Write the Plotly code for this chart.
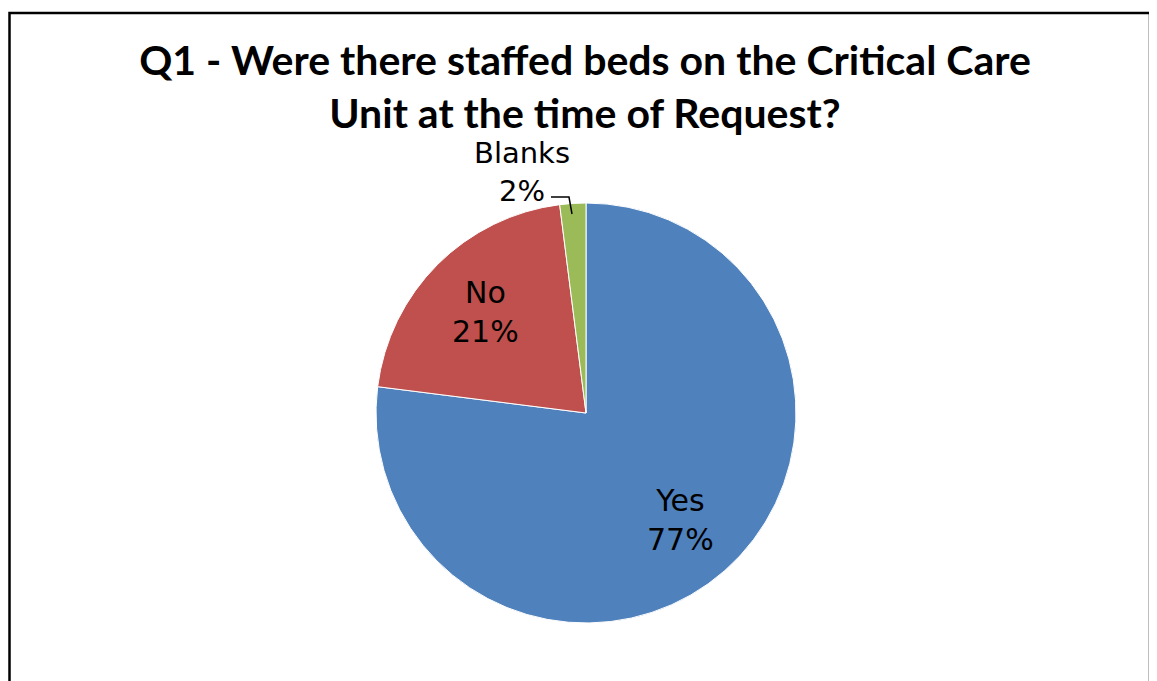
import math
import plotly.graph_objects as go

categories = ["Yes", "No", "Blanks"]
values = [77, 21, 2]
colors = ["#4F81BD", "#C0504D", "#9BBB59"]
title_text = "Q1 - Were there staffed beds on the Critical Care<br>Unit at the time of Request?"

W, H = 1157, 681
OFF = 8  # page body margin in the browser
cx, cy, r = 586 - OFF, 413 - OFF, 210


def px(x):
    return (x - OFF) / W


def py(y):
    return 1 - (y - OFF) / H


fig = go.Figure(go.Pie(
    labels=categories,
    values=values,
    sort=False,
    direction="clockwise",
    rotation=0,
    marker=dict(colors=colors, line=dict(color="white", width=1)),
    textinfo="none",
    showlegend=False,
    hoverinfo="label+percent",
    domain=dict(x=[(cx - r) / W, (cx + r) / W], y=[(H - cy - r) / H, (H - cy + r) / H]),
))

label_font = dict(family="DejaVu Sans", size=30, color="black")

# inside labels for Yes / No, placed at the middle angle of each slice
total = sum(values)
cum = 0
for i, (cat, v) in enumerate(zip(categories, values)):
    mid = (cum + v / 2) / total * 2 * math.pi
    cum += v
    if i >= 2:
        continue
    rr = 0.68 * r
    lx = cx + rr * math.sin(mid)
    ly = cy - rr * math.cos(mid)
    fig.add_annotation(x=lx / W, y=1 - ly / H, xref="paper", yref="paper",
                       text=f"{cat}<br>{round(v / total * 100)}%", showarrow=False,
                       font=label_font, xanchor="center", yanchor="middle", align="center")

# outside label for Blanks
fig.add_annotation(
    x=px(522), y=py(172), xref="paper", yref="paper",
    text=f"{categories[2]}<br>{round(values[2] / total * 100)}%", showarrow=False,
    font=dict(family="DejaVu Sans", size=29, color="black"),
    xanchor="center", yanchor="middle", align="center",
)
# leader line for Blanks label
fig.add_shape(type="path", xref="paper", yref="paper",
              path=f"M {px(551)} {py(197)} L {px(569)} {py(197)} L {px(572)} {py(214)}",
              line=dict(color="black", width=1.5))
# chart frame
fig.add_shape(type="rect", xref="paper", yref="paper",
              x0=px(9.5), x1=px(1150), y0=-0.05, y1=py(13),
              line=dict(color="black", width=2.5))

fig.update_layout(
    width=W, height=H,
    margin=dict(l=0, r=0, t=0, b=0),
    paper_bgcolor="white", plot_bgcolor="white",
    title=dict(text=title_text, x=px(585), xanchor="center", y=py(75), yanchor="middle",
               font=dict(family="Lato", size=41, color="black", weight="bold")),
)

fig.write_html("out.html")
